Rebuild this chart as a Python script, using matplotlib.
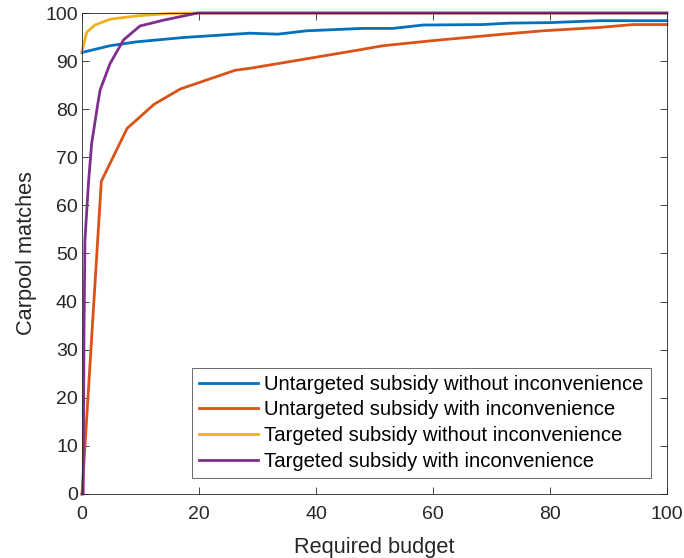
import numpy as np
import matplotlib
matplotlib.use("Agg")
import matplotlib.pyplot as plt

plt.rcParams['font.family'] = ['Liberation Sans', 'DejaVu Sans']

# Untargeted subsidy without inconvenience
budget_ut_noinc = [0, 4.8, 9.3, 17.3, 28.7, 33.5, 38.4, 48, 53.2, 58.3, 68.5, 73.2, 80, 88.5, 100]
match_ut_noinc = [91.8, 93.2, 94.0, 94.9, 95.8, 95.6, 96.3, 96.8, 96.8, 97.5, 97.6, 97.9, 98.0, 98.4, 98.4]

# Untargeted subsidy with inconvenience
budget_ut_inc = [0, 3.3, 7.7, 12.3, 16.8, 26.2, 28.7, 45.8, 51.5, 59.5, 72, 78.8, 88.5, 94.2, 100]
match_ut_inc = [0, 65, 76, 81, 84.2, 88.1, 88.5, 92.0, 93.2, 94.2, 95.6, 96.3, 97.0, 97.6, 97.6]

# Targeted subsidy without inconvenience
budget_t_noinc = [0, 0.2, 0.8, 2.2, 4.8, 9.3, 15, 19.8, 100]
match_t_noinc = [92, 93, 96, 97.5, 98.7, 99.4, 99.9, 100, 100]

# Targeted subsidy with inconvenience
budget_t_inc = [0, 0.2, 0.34, 0.5, 1.1, 1.65, 2.8, 3.1, 4.8, 7.1, 9.9, 13.9, 19.8, 100]
match_t_inc = [0, 0, 33.5, 52.8, 64.6, 72.9, 81.9, 84, 89.5, 94.4, 97.3, 98.5, 100, 100]

labels = ['Untargeted subsidy without inconvenience',
          'Untargeted subsidy with inconvenience',
          'Targeted subsidy without inconvenience',
          'Targeted subsidy with inconvenience']
colors = ['#0072BD', '#D95319', '#EDB120', '#7E2F8E']

fig = plt.figure(figsize=(6.84, 5.58), dpi=100)
ax = fig.add_axes([0.1199, 0.1147, 0.975 - 0.1199, 0.9767 - 0.1147])

series = [(budget_ut_noinc, match_ut_noinc), (budget_ut_inc, match_ut_inc),
          (budget_t_noinc, match_t_noinc), (budget_t_inc, match_t_inc)]
for (x, y), lab, c in zip(series, labels, colors):
    ax.plot(x, y, color=c, lw=2, label=lab, clip_on=False)

ax.set_xlim(0, 100)
ax.set_ylim(0, 100)
ax.set_xticks(np.arange(0, 101, 20))
ax.set_yticks(np.arange(0, 101, 10))
ax.tick_params(direction='in', top=True, right=True, length=5, width=0.6,
               labelsize=14, colors='#262626')
ax.tick_params(axis='x', pad=9)
ax.tick_params(axis='y', pad=3)
for s in ax.spines.values():
    s.set_color('#262626')
    s.set_linewidth(0.6)

ax.set_xlabel('Required budget', fontsize=15.7, color='#262626', labelpad=10)
ax.set_ylabel('Carpool matches', fontsize=15.7, color='#262626', labelpad=6)

leg = ax.legend(loc='lower right', fontsize=14.6, frameon=True, fancybox=False,
                edgecolor='#262626', handlelength=2.9, handletextpad=0.3,
                borderpad=0.35, labelspacing=0.33, borderaxespad=0.8)
leg.get_frame().set_linewidth(0.6)

fig.savefig('out.png', dpi=100)
